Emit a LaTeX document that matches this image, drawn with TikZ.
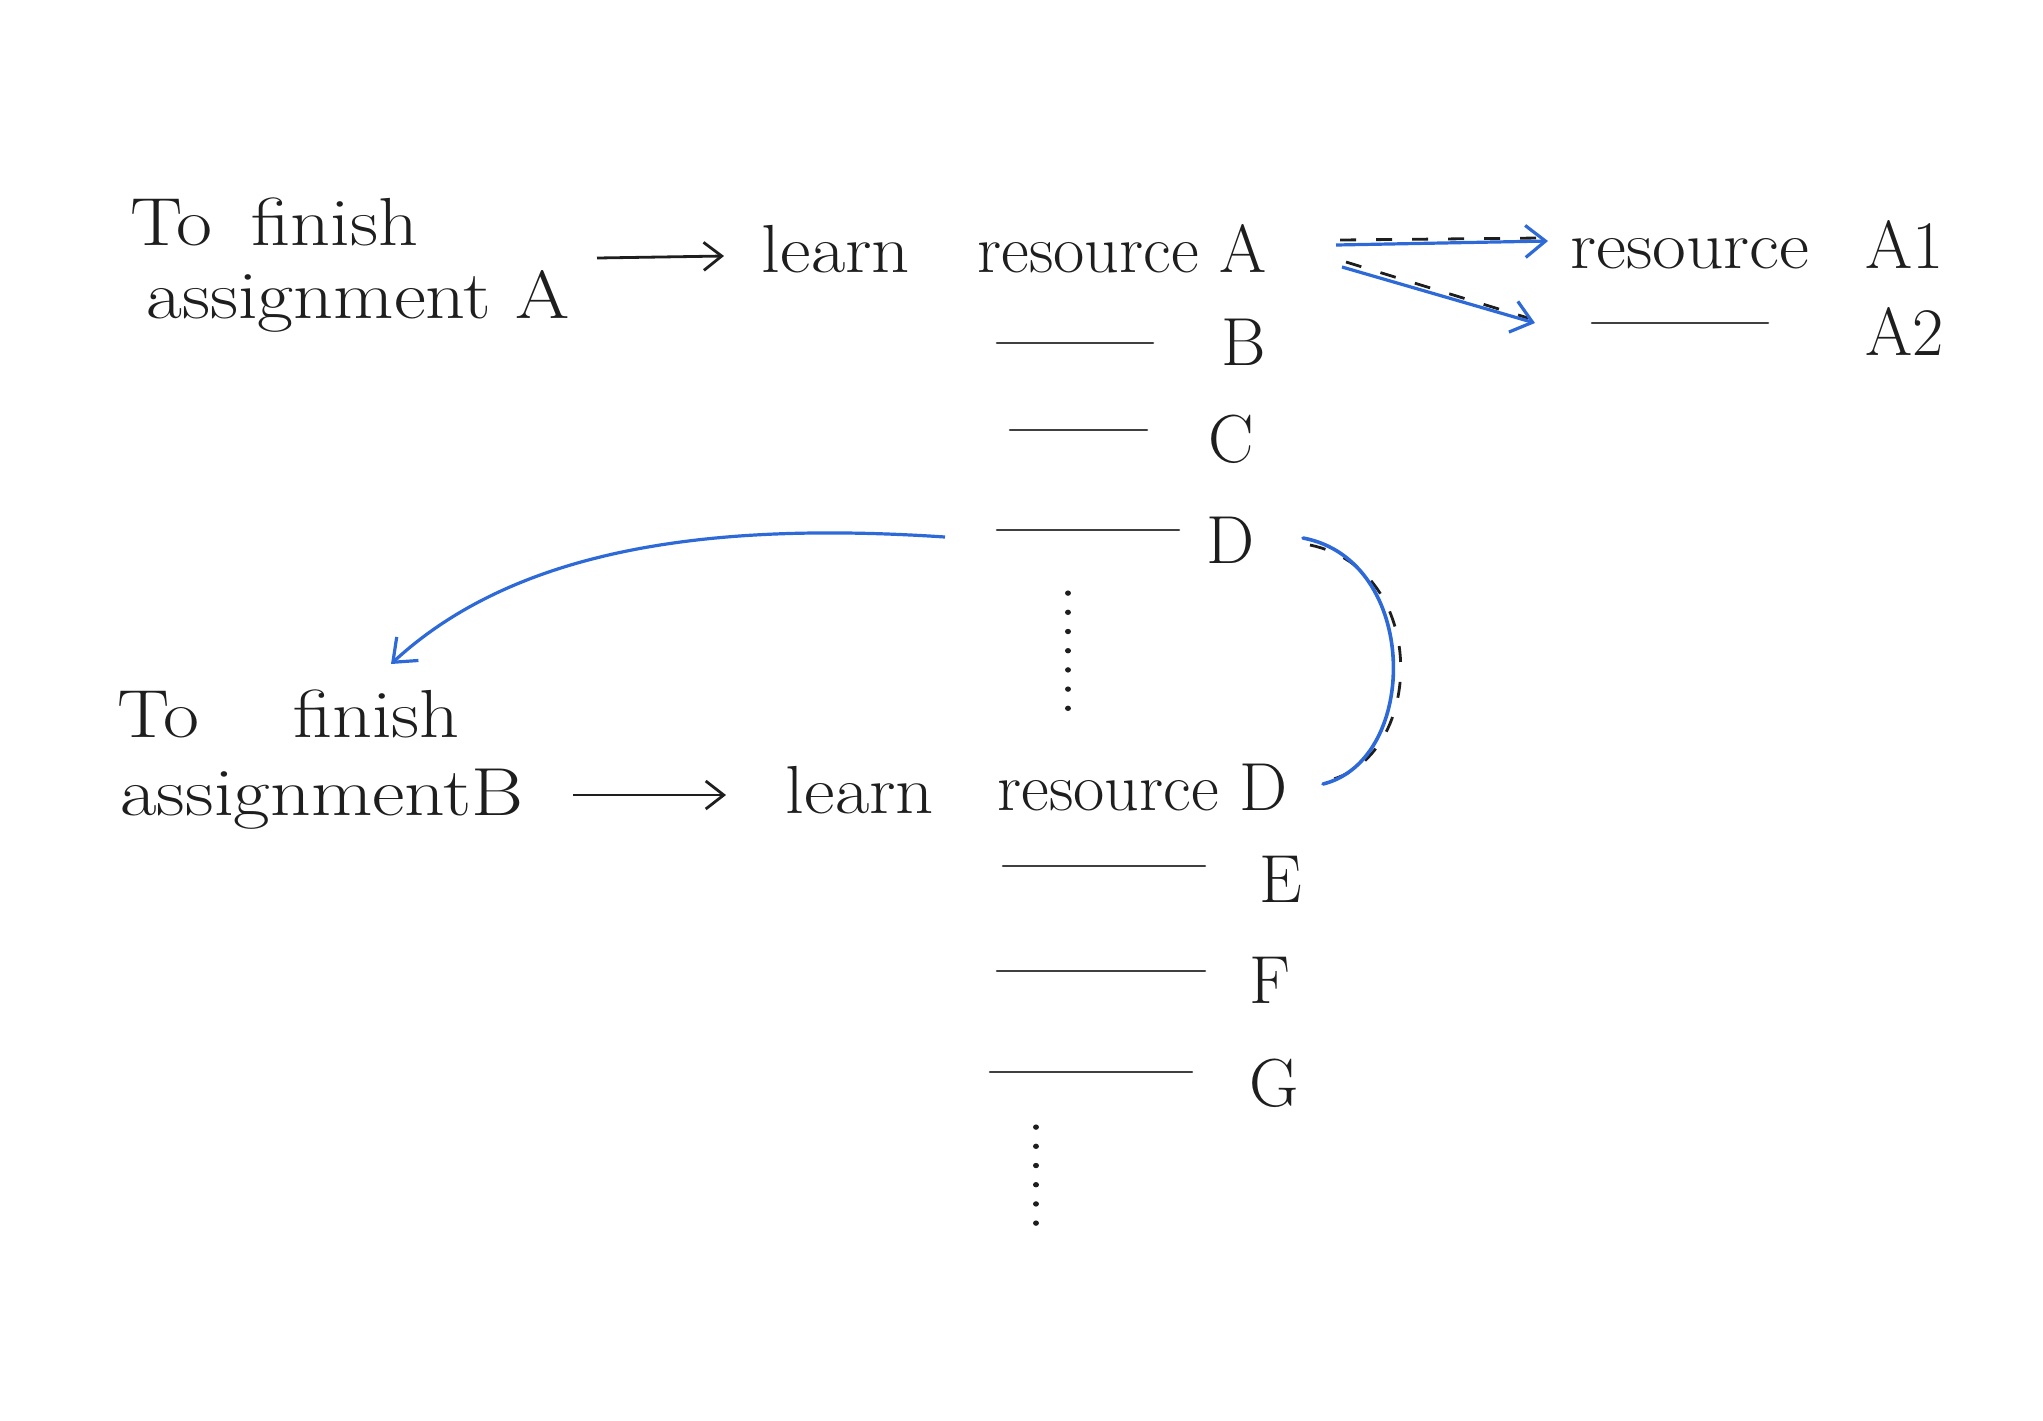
\documentclass[tikz,border=0pt]{standalone}
\usepackage{fontspec}
\usetikzlibrary{arrows.meta}
\definecolor{pen}{RGB}{30,30,30}
\definecolor{bluepen}{RGB}{45,105,215}
\begin{document}
\begin{tikzpicture}[x=0.5pt,y=-0.5pt,
  txt/.style={inner sep=0pt,font=\fontsize{34}{40}\selectfont,text=pen},
  dashline/.style={draw=pen!85,line width=1.3pt,line cap=round},
  blackarrow/.style={draw=pen,line width=1.4pt,-{Straight Barb[length=9pt,width=14pt]}},
  bluearrow/.style={draw=bluepen,line width=1.6pt,-{Straight Barb[length=10pt,width=16pt]}},
  underdash/.style={draw=pen,line width=1.4pt,dash pattern=on 8pt off 10pt},
  dots/.style={draw=pen,line width=2.6pt,line cap=round,dash pattern=on 0.1pt off 9.5pt}]
\useasboundingbox (0,0) rectangle (2043,1420);

% ---- row 1 ----
\node[txt,anchor=base west] (t1) at (130,245) {\scalebox{1.15}[1]{To\hspace{0.5em}finish}};
\node[txt,anchor=base west] (as1) at (146,318) {\scalebox{1.15}[1]{assignment A}};
\node[txt,anchor=base] (l1) at (836,272) {\scalebox{1.1}[1]{learn}};
\node[txt,anchor=base west] (rA) at (977,272) {resource A};
\coordinate (s1) at (597,258);
\coordinate (e1) at (724,256);
\draw[blackarrow] (s1) -- (e1);

\coordinate (bS) at (997,343); \coordinate (bE) at (1153,343);
\draw[dashline] (bS) -- (bE);
\node[txt,anchor=base] (B) at (1244,365) {B};
\coordinate (cS) at (1010,430); \coordinate (cE) at (1147,430);
\draw[dashline] (cS) -- (cE);
\node[txt,anchor=base] (C) at (1231,462) {C};
\coordinate (dS) at (997,530); \coordinate (dE) at (1179,530);
\draw[dashline] (dS) -- (dE);
\node[txt,anchor=base] (D) at (1231,563) {D};
\coordinate (v1) at (1068,593); \coordinate (v2) at (1068,726);
\draw[dots] (v1) -- (v2);

% A1 / A2
\node[txt,anchor=base west] (r1) at (1570,268) {\scalebox{1.08}[1]{resource}};
\node[txt,anchor=base] (A1) at (1905,268) {A1};
\coordinate (a2S) at (1592,323); \coordinate (a2E) at (1768,323);
\draw[dashline] (a2S) -- (a2E);
\node[txt,anchor=base] (A2) at (1905,355) {A2};

\coordinate (p1) at (1336,245); \coordinate (q1) at (1548,241);
\coordinate (p2) at (1342,267); \coordinate (q2) at (1535,323);
\draw[underdash] (1340,240) -- (1540,238);
\draw[underdash] (1346,262) -- (1528,318);
\draw[bluearrow] (p1) -- (q1);
\draw[bluearrow] (p2) -- (q2);

% blue arrow from D to assignment B
\coordinate (fromD) at (945,537);
\coordinate (toB) at (391,664);
\draw[bluearrow] (fromD) .. controls (720,522) and (520,545) .. (toB);

% ---- row 2 ----
\node[txt,anchor=base west] (t2) at (117,737) {\scalebox{1.15}[1]{To\hspace{1.2em}finish}};
\node[txt,anchor=base west] (as2) at (120,815) {\scalebox{1.17}[1]{assignmentB}};
\coordinate (s2) at (573,795);
\coordinate (e2) at (726,795);
\draw[blackarrow] (s2) -- (e2);
\node[txt,anchor=base] (l2) at (860,813) {\scalebox{1.1}[1]{learn}};
\node[txt,anchor=base west] (rD) at (997,810) {resource D};

\coordinate (eS) at (1003,866); \coordinate (eE) at (1205,866);
\draw[dashline] (eS) -- (eE);
\node[txt,anchor=base] (E) at (1281,902) {E};
\coordinate (fS) at (997,971); \coordinate (fE) at (1205,971);
\draw[dashline] (fS) -- (fE);
\node[txt,anchor=base] (F) at (1270,1003) {F};
\coordinate (gS) at (990,1072); \coordinate (gE) at (1192,1072);
\draw[dashline] (gS) -- (gE);
\node[txt,anchor=base] (G) at (1274,1106) {G};
\coordinate (w1) at (1036,1127); \coordinate (w2) at (1036,1228);
\draw[dots] (w1) -- (w2);

% blue curve D -> resource D
\coordinate (dTop) at (1303,538);
\coordinate (dBot) at (1323,784);
\draw[underdash] (1310,545) .. controls (1430,570) and (1425,755) .. (1330,780);
\draw[draw=bluepen,line width=1.8pt,line cap=round] (dTop) .. controls (1420,560) and (1420,760) .. (dBot);
\end{tikzpicture}
\end{document}
